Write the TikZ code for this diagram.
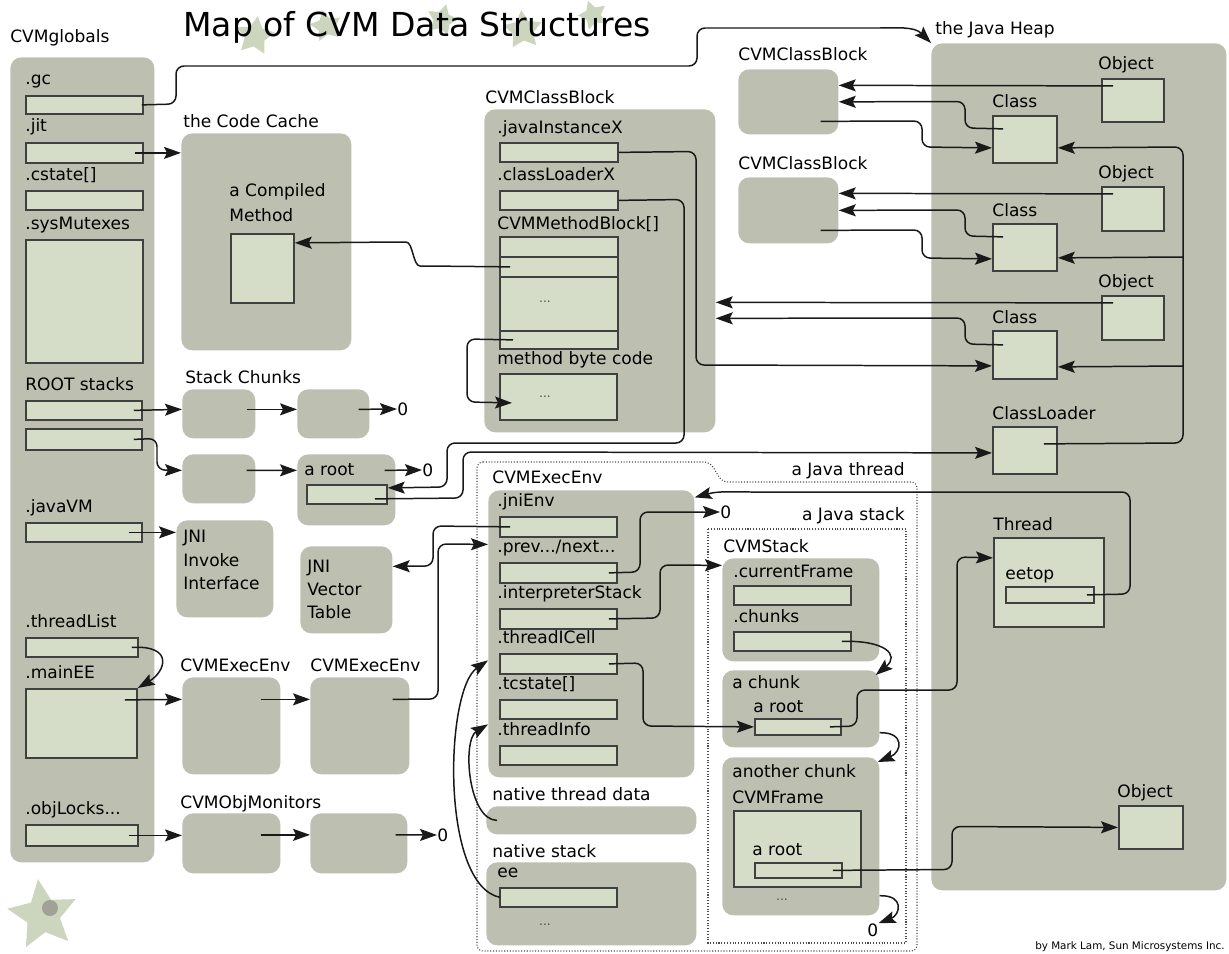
\documentclass[tikz,border=0pt]{standalone}
\usepackage{fontspec}
\setmainfont{DejaVu Sans}
\usetikzlibrary{arrows.meta,shapes.geometric}
\definecolor{contgray}{RGB}{189,191,176}
\definecolor{fieldgreen}{RGB}{213,221,200}
\definecolor{stargreen}{RGB}{204,214,190}
\definecolor{linedark}{RGB}{25,25,25}
\tikzstyle{cont} = [fill=contgray, rounded corners=0.22cm, inner sep=0pt]
\tikzstyle{field} = [draw=black!75, line width=1pt, fill=fieldgreen, inner sep=0pt]
\tikzstyle{lbl} = [anchor=base west, inner sep=0pt, font=\fontsize{9.7}{11}\selectfont]
\tikzstyle{zero} = [anchor=west, inner sep=0pt, font=\fontsize{9.7}{11}\selectfont]
\tikzstyle{dots} = [inner sep=0pt, font=\fontsize{7}{8}\selectfont, text=black!70]
\tikzstyle{line} = [draw=linedark, line width=0.85pt, rounded corners=0.16cm]
\tikzstyle{arr} = [line, -{Stealth[length=0.34cm,width=0.24cm,inset=0.06cm]}]
\tikzstyle{group} = [draw=black!70, densely dotted, line width=0.6pt]
\tikzstyle{deco} = [star, star points=5, star point ratio=1.9, fill=stargreen, inner sep=0pt]
\tikzset{spanbox/.style n args={4}{at={(#1,#2)}, anchor=north west, minimum width={(#3-#1)*0.02cm}, minimum height={(#4-#2)*0.02cm}}}

\begin{document}
\begin{tikzpicture}[x=0.02cm, y=-0.02cm]
	\useasboundingbox (0,0) rectangle (1229,953);

	\node[deco, minimum size=0.8cm, rotate=-8] (star1) at (255,36) {};
	\node[deco, minimum size=0.65cm, rotate=12] (star2) at (326,26) {};
	\node[deco, minimum size=0.65cm, rotate=-15] (star3) at (442,20) {};
	\node[deco, minimum size=0.8cm, rotate=5] (star4) at (523,30) {};
	\node[deco, minimum size=0.6cm, rotate=20] (star5) at (593,15) {};
	\node[deco, minimum size=1.45cm, rotate=8, star point ratio=2.1] (logo) at (43,915) {};
	\node[circle, fill=contgray!85!black, minimum size=0.32cm, inner sep=0pt] (logohead) at (50,908) {};
	\node[anchor=base west, inner sep=0pt, font=\fontsize{18.8}{22}\selectfont] (title) at (183,37) {Map of CVM Data Structures};
	\node[anchor=base east, inner sep=0pt, font=\fontsize{5.9}{7}\selectfont] (credit) at (1225,949) {by Mark Lam, Sun Microsystems Inc.};

	\path[group, rounded corners=0.12cm] (477,462) -- (710,462) -- (722,482) -- (917,482) -- (917,951) -- (477,951) -- cycle;
	\path[group] (708,529) rectangle (906,943);

	\node[cont, spanbox={10}{57}{154}{862}] (globals) {};
	\node[cont, spanbox={181}{133}{351}{350}] (codecache) {};
	\node[cont, spanbox={484}{109}{715}{432}] (classblk) {};
	\node[cont, spanbox={738}{69}{838}{134}] (cblk1) {};
	\node[cont, spanbox={738}{177}{838}{243}] (cblk2) {};
	\node[cont, spanbox={931}{43}{1226}{890}] (heap) {};
	\node[cont, spanbox={182}{389}{255}{438}] (chunk1) {};
	\node[cont, spanbox={297}{389}{369}{438}] (chunk2) {};
	\node[cont, spanbox={182}{454}{255}{503}] (chunk3) {};
	\node[cont, spanbox={297}{454}{395}{525}] (rootchunk) {};
	\node[cont, spanbox={176}{520}{273}{617}] (jniinvoke) {};
	\node[cont, spanbox={300}{546}{392}{633}] (jnivector) {};
	\node[cont, spanbox={182}{677}{280}{774}] (ee1) {};
	\node[cont, spanbox={310}{677}{409}{774}] (ee2) {};
	\node[cont, spanbox={182}{813}{280}{873}] (mon1) {};
	\node[cont, spanbox={310}{813}{407}{873}] (mon2) {};
	\node[cont, spanbox={488}{490}{694}{777}] (execenv) {};
	\node[cont, spanbox={486}{806}{696}{834}] (nthread) {};
	\node[cont, spanbox={486}{862}{696}{945}] (nstack) {};
	\node[cont, spanbox={722}{558}{879}{661}] (cvmstack) {};
	\node[cont, spanbox={722}{670}{879}{747}] (achunk) {};
	\node[cont, spanbox={722}{757}{879}{915}] (otherchunk) {};

	\node[field, spanbox={25}{95}{142}{113}] (gc) {};
	\node[field, spanbox={25}{142}{142}{162}] (jit) {};
	\node[field, spanbox={25}{190}{142}{209}] (cstate) {};
	\node[field, spanbox={25}{239}{142}{362}] (sysmutex) {};
	\node[field, spanbox={25}{400}{141}{419}] (rootstk1) {};
	\node[field, spanbox={25}{428}{141}{449}] (rootstk2) {};
	\node[field, spanbox={25}{522}{141}{541}] (javavm) {};
	\node[field, spanbox={25}{637}{137}{656}] (threadlist) {};
	\node[field, spanbox={25}{688}{136}{757}] (mainee) {};
	\node[field, spanbox={25}{824}{137}{845}] (objlocks) {};
	\node[field, spanbox={230}{233}{293}{302}] (compiled) {};
	\node[field, spanbox={499}{142}{617}{161}] (javainst) {};
	\node[field, spanbox={499}{190}{617}{209}] (classldr) {};
	\node[field, spanbox={499}{236}{617}{256}] (mb1) {};
	\node[field, spanbox={499}{256}{617}{276}] (mb2) {};
	\node[field, spanbox={499}{276}{617}{330}] (mb3) {};
	\node[field, spanbox={499}{330}{617}{348}] (mb4) {};
	\node[field, spanbox={499}{373}{616}{419}] (bytecode) {};
	\node[field, spanbox={306}{484}{386}{503}] (rootfld) {};
	\node[field, spanbox={499}{516}{616}{536}] (jnienv) {};
	\node[field, spanbox={499}{562}{616}{582}] (prevnext) {};
	\node[field, spanbox={499}{608}{616}{628}] (interp) {};
	\node[field, spanbox={499}{653}{616}{673}] (ticell) {};
	\node[field, spanbox={499}{699}{616}{718}] (tcstate) {};
	\node[field, spanbox={499}{745}{616}{764}] (tinfo) {};
	\node[field, spanbox={499}{887}{616}{906}] (eefld) {};
	\node[field, spanbox={733}{585}{850}{604}] (curframe) {};
	\node[field, spanbox={733}{631}{850}{650}] (chunksfld) {};
	\node[field, spanbox={754}{718}{840}{734}] (chunkroot) {};
	\node[field, spanbox={733}{810}{860}{886}] (frame) {};
	\node[field, spanbox={754}{862}{841}{877}] (frameroot) {};
	\node[field, spanbox={1101}{78}{1163}{121}] (obj1) {};
	\node[field, spanbox={992}{115}{1056}{162}] (cls1) {};
	\node[field, spanbox={1101}{186}{1163}{230}] (obj2) {};
	\node[field, spanbox={992}{223}{1056}{270}] (cls2) {};
	\node[field, spanbox={1101}{295}{1163}{339}] (obj3) {};
	\node[field, spanbox={992}{330}{1056}{378}] (cls3) {};
	\node[field, spanbox={992}{426}{1056}{473}] (loader) {};
	\node[field, spanbox={993}{537}{1103}{626}] (thread) {};
	\node[field, spanbox={1005}{586}{1093}{602}] (eetop) {};
	\node[field, spanbox={1118}{805}{1182}{848}] (obj4) {};

	\node[lbl] (tglobals) at (10,43) {CVMglobals};
	\node[lbl] (tgc) at (25,85) {.gc};
	\node[lbl] (tjit) at (25,132) {.jit};
	\node[lbl] (tcstate) at (25,180) {.cstate[]};
	\node[lbl] (tsysmutex) at (25,229) {.sysMutexes};
	\node[lbl] (trootstk) at (25,390) {ROOT stacks};
	\node[lbl] (tjavavm) at (25,512) {.javaVM};
	\node[lbl] (tthreadlist) at (25,627) {.threadList};
	\node[lbl] (tmainee) at (25,678) {.mainEE};
	\node[lbl] (tobjlocks) at (25,814) {.objLocks...};
	\node[lbl] (tcache) at (183,127) {the Code Cache};
	\node[lbl] (tcompiled) at (229,196) {a Compiled};
	\node[lbl] (tmethod) at (229,221) {Method};
	\node[lbl] (tchunks) at (185,383) {Stack Chunks};
	\node[lbl] (trootchunk) at (304,475) {a root};
	\node[lbl] (tjni1) at (183,542) {JNI};
	\node[lbl] (tinvoke) at (183,566) {Invoke};
	\node[lbl] (tinterface) at (183,589) {Interface};
	\node[lbl] (tjni2) at (307,572) {JNI};
	\node[lbl] (tvector) at (307,595) {Vector};
	\node[lbl] (ttable) at (307,618) {Table};
	\node[lbl] (tee1) at (180,671) {CVMExecEnv};
	\node[lbl] (tee2) at (310,671) {CVMExecEnv};
	\node[lbl] (tmon) at (180,808) {CVMObjMonitors};
	\node[lbl] (tclassblk) at (485,103) {CVMClassBlock};
	\node[lbl] (tjavainst) at (497,133) {.javaInstanceX};
	\node[lbl] (tclassldr) at (497,180) {.classLoaderX};
	\node[lbl] (tmethods) at (497,229) {CVMMethodBlock[]};
	\node[lbl] (tbytecode) at (497,364) {method byte code};
	\node[lbl] (tcblk1) at (738,61) {CVMClassBlock};
	\node[lbl] (tcblk2) at (738,169) {CVMClassBlock};
	\node[lbl] (theap) at (935,35) {the Java Heap};
	\node[lbl] (tobj1) at (1098,70) {Object};
	\node[lbl] (tcls1) at (992,108) {Class};
	\node[lbl] (tobj2) at (1098,178) {Object};
	\node[lbl] (tcls2) at (992,216) {Class};
	\node[lbl] (tobj3) at (1098,287) {Object};
	\node[lbl] (tcls3) at (992,323) {Class};
	\node[lbl] (tloader) at (992,419) {ClassLoader};
	\node[lbl] (tthread) at (993,530) {Thread};
	\node[lbl] (teetop) at (1005,579) {eetop};
	\node[lbl] (tobj4) at (1117,797) {Object};
	\node[lbl] (texecenv) at (492,483) {CVMExecEnv};
	\node[lbl] (tjnienv) at (497,506) {.jniEnv};
	\node[lbl] (tprevnext) at (497,552) {.prev.../next...};
	\node[lbl] (tinterp) at (497,598) {.interpreterStack};
	\node[lbl] (tticell) at (497,643) {.threadICell};
	\node[lbl] (ttcstate) at (497,689) {.tcstate[]};
	\node[lbl] (ttinfo) at (497,735) {.threadInfo};
	\node[lbl] (tnthread) at (492,800) {native thread data};
	\node[lbl] (tnstack) at (492,857) {native stack};
	\node[lbl] (tee) at (497,877) {ee};
	\node[lbl, anchor=base east] (tjthread) at (905,475) {a Java thread};
	\node[lbl, anchor=base east] (tjstack) at (905,520) {a Java stack};
	\node[lbl] (tcvmstack) at (723,552) {CVMStack};
	\node[lbl] (tcurframe) at (733,577) {.currentFrame};
	\node[lbl] (tchunksfld) at (733,622) {.chunks};
	\node[lbl] (tachunk) at (732,688) {a chunk};
	\node[lbl] (tchunkroot) at (753,712) {a root};
	\node[lbl] (tother) at (732,777) {another chunk};
	\node[lbl] (tframe) at (732,803) {CVMFrame};
	\node[lbl] (tframeroot) at (752,855) {a root};

	\node[dots] (dots1) at (545,302) {...};
	\node[dots] (dots2) at (545,397) {...};
	\node[dots] (dots3) at (545,925) {...};
	\node[dots] (dots4) at (782,900) {...};

	\node[zero] (z0) at (397,409) {0};
	\node[zero] (z1) at (422,470) {0};
	\node[zero] (z2) at (437,835) {0};
	\node[zero] (z3) at (720,512) {0};
	\node[zero] (z4) at (867,930) {0};

	\path[arr] ([xshift=-0.04cm]gc.east) -- (176,104) -- (176,66) -- (697,66) -- (697,28) -- (872,28) to[out=0,in=135] (heap.north west);
	\path[arr] ([xshift=-0.18cm]jit.east) -- (codecache.west |- jit.east);
	\path[arr] ([xshift=-0.18cm]rootstk1.east) -- ([yshift=0.09cm]chunk1.west);
	\path[arr] ([xshift=-0.18cm,yshift=0.09cm]chunk1.east) -- ([yshift=0.09cm]chunk2.west);
	\path[arr] ([xshift=-0.22cm,yshift=0.09cm]chunk2.east) -- (z0.west);
	\path[arr] ([xshift=-0.18cm]rootstk2.east) -- (157,438.5) -- (157,470) -- ([yshift=0.17cm]chunk3.west);
	\path[arr] ([xshift=-0.18cm,yshift=0.17cm]chunk3.east) -- ([yshift=0.39cm]rootchunk.west);
	\path[arr] ([xshift=-0.22cm,yshift=0.39cm]rootchunk.east) -- (z1.west);
	\path[arr] ([xshift=-0.28cm]javavm.east) -- (jniinvoke.west |- javavm.east);
	\path[arr] ([xshift=-0.14cm]threadlist.east) .. controls (175,645) and (165,672) .. (mainee.north east);
	\path[arr] ([xshift=-0.26cm,yshift=0.47cm]mainee.east) -- ([yshift=0.53cm]ee1.west);
	\path[arr] ([xshift=-0.4cm,yshift=0.53cm]ee1.east) -- ([yshift=0.53cm]ee2.west);
	\path[arr] ([xshift=-0.34cm,yshift=0.53cm]ee2.east) -- (438,699) -- (438,544) -- ([yshift=1.79cm]execenv.west);
	\path[arr] ([xshift=-0.2cm]objlocks.east) -- (mon1.west |- objlocks.east);
	\path[arr] ([xshift=-0.4cm,yshift=0.17cm]mon1.east) -- ([yshift=0.17cm]mon2.west);
	\path[arr] ([xshift=-0.24cm,yshift=0.17cm]mon2.east) -- (z2.west);

	\path[arr] ([xshift=0.22cm]mb2.west) -- (428,266) to[out=180,in=0] (398,242) -- ([yshift=0.51cm]compiled.east);
	\path[arr] ([xshift=0.28cm]mb4.west) -- (467,339) -- (467,402) -- ([xshift=0.26cm,yshift=-0.12cm]bytecode.west);
	\path[arr] (javainst.east) -- (696,151.5) -- (696,365) -- ([yshift=-0.22cm]cls3.west);
	\path[arr] (classldr.east) -- (684,199.5) -- (684,443) -- (447,443) -- (447,487) -- ([yshift=0.13cm]rootfld.east);
	\path[arr] ([xshift=-0.26cm,yshift=-0.09cm]rootfld.east) -- (463,498) -- (463,452) -- ([yshift=-0.05cm]loader.west);

	\path[arr] ([xshift=0.24cm,yshift=0.29cm]obj1.west) -- ([yshift=0.33cm]cblk1.east);
	\path[arr] ([xshift=0.22cm,yshift=0.21cm]cls1.west) -- (965,128) -- (965,101.5) -- (cblk1.east);
	\path[arr] ([xshift=-0.36cm,yshift=-0.39cm]cblk1.east) -- (922,121) -- (922,147) -- ([yshift=-0.17cm]cls1.west);
	\path[arr] ([xshift=0.24cm,yshift=0.3cm]obj2.west) -- ([yshift=0.34cm]cblk2.east);
	\path[arr] ([xshift=0.22cm,yshift=0.21cm]cls2.west) -- (965,236) -- (965,210) -- (cblk2.east);
	\path[arr] ([xshift=-0.36cm,yshift=-0.4cm]cblk2.east) -- (922,230) -- (922,258) -- ([yshift=-0.23cm]cls2.west);
	\path[arr] ([xshift=0.24cm,yshift=0.3cm]obj3.west) -- ([yshift=-0.63cm]classblk.east);
	\path[arr] ([xshift=0.22cm,yshift=0.2cm]cls3.west) -- (965,344) -- (965,318) -- ([yshift=-0.95cm]classblk.east);
	\coordinate (branch2) at (1183,257);
	\coordinate (branch3) at (1183,366);
	\path[arr] ([xshift=-0.28cm,yshift=0.13cm]loader.east) -- (1183,443) -- (1183,147) -- ([yshift=-0.17cm]cls1.east);
	\path[arr] (branch2) -- ([yshift=-0.21cm]cls2.east);
	\path[arr] (branch3) -- ([yshift=-0.24cm]cls3.east);

	\path[arr] ([xshift=0.22cm]jnienv.west) -- (433,526) -- (433,566) -- ([yshift=0.47cm]jnivector.east);
	\path[arr] ([xshift=-0.18cm]prevnext.east) -- (640,572) -- (640,512) -- (z3.west);
	\path[arr] ([xshift=-0.18cm]interp.east) -- (660,618) -- (660,565) -- ([yshift=0.89cm]cvmstack.west);
	\path[arr] ([xshift=-0.18cm]ticell.east) -- (643,663) -- (643,726) -- (chunkroot.west);
	\path[arr] ([xshift=-0.24cm]chunkroot.east) -- (857,726) -- (857,690) -- (957,690) -- (957,557) -- ([yshift=0.49cm]thread.west);
	\path[arr] ([xshift=-0.16cm]eetop.east) -- (1130,594) -- (1130,492) -- (760,492) to[out=180,in=15] ([yshift=2.73cm]execenv.east);
	\path[arr] ([xshift=-0.2cm]chunksfld.east) .. controls (885,640) and (900,655) .. ([xshift=-0.08cm,yshift=-0.1cm]achunk.north east);
	\path[arr] ([yshift=0.3cm]achunk.south east) .. controls (905,732) and (902,752) .. ([xshift=-0.04cm,yshift=-0.1cm]otherchunk.north east);
	\path[arr] ([yshift=0.4cm]otherchunk.south east) .. controls (905,895) and (900,915) .. (z4.north east);
	\path[arr] ([xshift=-0.2cm]frameroot.east) -- (952,869.5) -- (952,826.5) -- (obj4.west);
	\path[arr] ([xshift=0.02cm]eefld.west) .. controls (440,885) and (445,690) .. ([yshift=-0.53cm]execenv.west);
	\path[arr] ([xshift=0.22cm]nthread.west) .. controls (468,820) and (462,740) .. ([yshift=-1.81cm]execenv.west);
\end{tikzpicture}
\end{document}
